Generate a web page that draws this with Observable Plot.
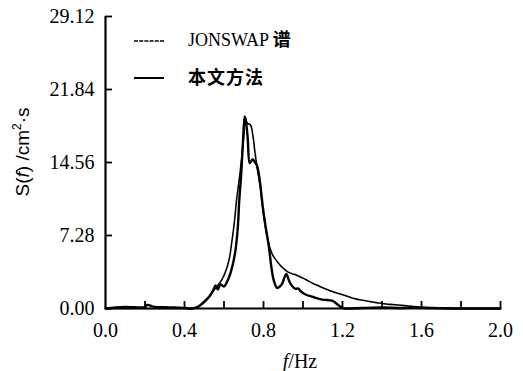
<!DOCTYPE html>
<html>
<head>
<meta charset="utf-8">
<script src="https://cdn.jsdelivr.net/npm/d3@7"></script>
<script src="https://cdn.jsdelivr.net/npm/@observablehq/plot@0.6"></script>
<style>
  body { margin: 0; background: #fff; }
  #wrap { position: relative; width: 523px; height: 371px; background: #fff; overflow: hidden; }
  .lbl { position: absolute; white-space: nowrap; color: #000; }
</style>
</head>
<body>
<div id="wrap"></div>
<script>
// ---- data (frequency f in Hz, spectral density S(f) in cm^2·s) ----
const jonswap = [
  [0.00,0],[0.40,0],[0.44,0],[0.48,0.3],[0.51,0.8],[0.54,1.6],[0.56,2.1],[0.58,2.6],
  [0.60,3.3],[0.625,4.8],[0.64,6.7],[0.653,8.7],[0.663,10.7],[0.684,14.0],[0.70,17.3],
  [0.705,19.2],[0.717,18.5],[0.734,18.3],[0.746,17.3],[0.756,15.7],[0.768,14.0],
  [0.782,12.4],[0.798,9.7],[0.812,7.9],[0.827,6.4],[0.845,5.4],[0.861,4.9],[0.89,4.2],
  [0.928,3.6],[0.97,3.3],[1.013,2.9],[1.05,2.5],[1.097,2.1],[1.14,1.75],[1.18,1.5],
  [1.22,1.25],[1.266,0.96],[1.31,0.8],[1.35,0.65],[1.42,0.45],[1.51,0.3],[1.60,0.12],
  [1.70,0.03],[1.80,0],[2.00,0]
];
const method = [
  [0.00,0],[0.05,0.1],[0.10,0.15],[0.15,0.12],[0.20,0.15],[0.21,0.35],[0.25,0.15],
  [0.30,0.12],[0.35,0.1],[0.40,0.05],[0.44,0],[0.47,0.2],[0.506,0.8],[0.53,1.3],
  [0.545,1.8],[0.557,2.3],[0.569,1.9],[0.582,2.4],[0.60,2.2],[0.625,3.1],[0.641,4.1],
  [0.658,5.8],[0.67,8.1],[0.677,10.7],[0.687,13.4],[0.697,17.0],[0.703,18.7],[0.708,19.0],
  [0.714,18.2],[0.72,17.0],[0.73,14.5],[0.738,14.7],[0.746,14.9],[0.756,14.6],[0.768,14.2],
  [0.782,12.6],[0.798,9.9],[0.812,8.0],[0.827,6.2],[0.84,4.1],[0.852,2.8],[0.869,2.05],
  [0.883,2.2],[0.894,2.45],[0.915,3.45],[0.927,2.9],[0.937,2.45],[0.962,1.96],[0.975,2.0],
  [0.99,1.7],[1.013,1.4],[1.055,1.12],[1.097,0.89],[1.15,0.75],[1.175,0.4],[1.20,0.05],
  [1.22,0],[1.30,0.05],[1.40,0.1],[1.50,0.05],[1.60,0.08],[1.70,0.02],[1.80,0],[2.00,0]
];
const xTickMarks = [0.2,0.4,0.6,0.8,1.0,1.2,1.4,1.6,1.8,2.0];
const xTickLabels = [0.0,0.4,0.8,1.2,1.6,2.0];
const yTicks = [0,7.28,14.56,21.84,29.12];
const legendLabels = ["JONSWAP ", "谱", "本文方法"];
const xLabelText = ["f", "/Hz"];
const yLabelText = ["S(", "f", ") /cm", "2", "·s"];

const W = 523, H = 371, mL = 105, mR = 23, mT = 16, mB = 63;

const chart = Plot.plot({
  width: W, height: H,
  marginLeft: mL, marginRight: mR, marginTop: mT, marginBottom: mB,
  style: { fontFamily: "'Liberation Serif', 'Times New Roman', serif", fontSize: "20px", background: "white", color: "black", overflow: "visible" },
  x: { domain: [0, 2], ticks: xTickLabels, tickFormat: d => d.toFixed(1), tickSize: 0, tickPadding: 14, label: null },
  y: { domain: [0, 29.12], ticks: yTicks, tickFormat: d => d.toFixed(2), tickSize: 0, tickPadding: 11, label: null },
  marks: [
    Plot.tickX(xTickMarks, { x: d => d, insetTop: (H - mT - mB) - 7, strokeWidth: 1.8 }),
    Plot.tickY(yTicks, { y: d => d, insetRight: (W - mL - mR) - 7, strokeWidth: 1.8 }),
    Plot.ruleX([0], { strokeWidth: 2.2 }),
    Plot.ruleY([0], { strokeWidth: 2.2 }),
    Plot.line(jonswap, { x: d => d[0], y: d => d[1], curve: "catmull-rom", stroke: "black", strokeWidth: 1.6, strokeDasharray: "5,1" }),
    Plot.line(method, { x: d => d[0], y: d => d[1], curve: "catmull-rom", stroke: "black", strokeWidth: 2.4 })
  ]
});
const wrap = document.getElementById("wrap");
wrap.appendChild(chart);

function addLabel(html, css) {
  const d = document.createElement("div");
  d.className = "lbl";
  d.innerHTML = html;
  Object.assign(d.style, css);
  wrap.appendChild(d);
  return d;
}
// legend
addLabel(`<svg width="30" height="4"><line x1="0" x2="30" y1="2" y2="2" stroke="black" stroke-width="1.4" stroke-dasharray="4,1.2"/></svg>`, { left: "134px", top: "38px", lineHeight: "0" });
addLabel(`<svg width="30" height="4"><line x1="0" x2="30" y1="2" y2="2" stroke="black" stroke-width="2"/></svg>`, { left: "134px", top: "75px", lineHeight: "0" });
addLabel(`<span style="font-family:'Liberation Serif',serif">${legendLabels[0]}</span><span style="font-family:'Noto Sans CJK SC';font-weight:700">${legendLabels[1]}</span>`,
  { left: "188px", top: "29px", fontSize: "18px", lineHeight: "18px" });
addLabel(`<span style="font-family:'Noto Sans CJK SC';font-weight:700;letter-spacing:1px">${legendLabels[2]}</span>`,
  { left: "188px", top: "67px", fontSize: "18px", lineHeight: "18px" });
// axis titles
addLabel(`<i>${xLabelText[0]}</i>${xLabelText[1]}`, { left: "300px", top: "361px", transform: "translate(-50%,-50%)", fontFamily: "'Liberation Serif',serif", fontSize: "20px", lineHeight: "20px" });
addLabel(`${yLabelText[0]}<i>${yLabelText[1]}</i>${yLabelText[2]}<sup style="font-size:12px">${yLabelText[3]}</sup>${yLabelText[4]}`,
  { left: "20px", top: "152px", transform: "translate(-50%,-50%) rotate(-90deg)", fontFamily: "'Liberation Sans',Arial,sans-serif", fontSize: "19px", lineHeight: "19px" });
</script>
</body>
</html>
